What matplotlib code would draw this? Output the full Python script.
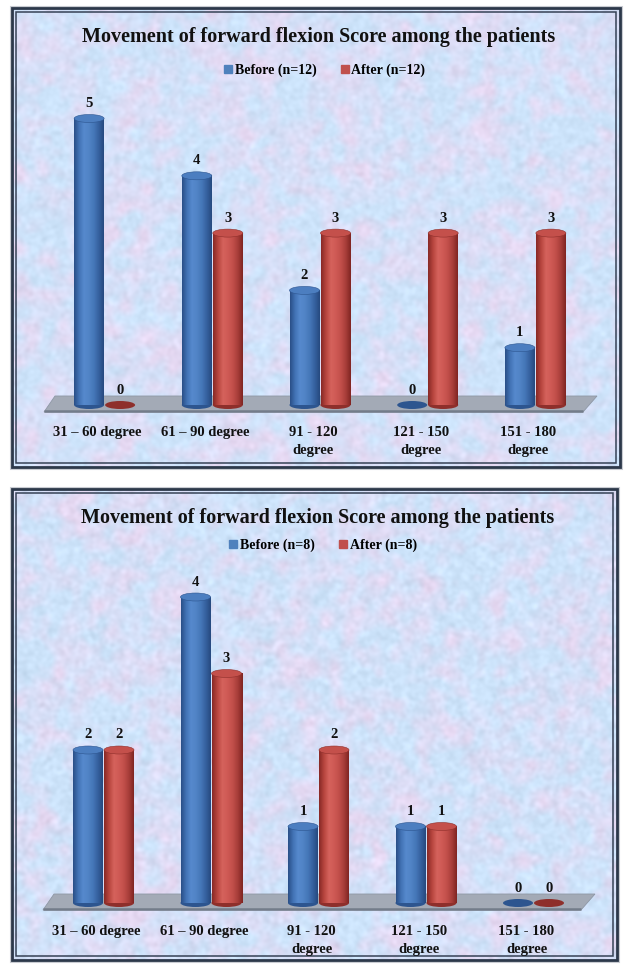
import numpy as np
import matplotlib
matplotlib.use('Agg')
import matplotlib.pyplot as plt
from matplotlib.patches import Ellipse, Polygon, Rectangle
from matplotlib.colors import LinearSegmentedColormap
from matplotlib.lines import Line2D

# ---- data ----
categories = ['31 – 60 degree', '61 – 90 degree', '91 - 120\ndegree',
              '121 - 150\ndegree', '151 - 180\ndegree']
title = 'Movement of forward flexion Score among the patients'

before_1 = [5, 4, 2, 0, 1]
after_1 = [0, 3, 3, 3, 3]
series_1 = ['Before (n=12)', 'After (n=12)']

before_2 = [2, 4, 1, 1, 0]
after_2 = [2, 3, 2, 1, 0]
series_2 = ['Before (n=8)', 'After (n=8)']

SERIF = 'Liberation Serif'
W, H = 629, 965

fig = plt.figure(figsize=(W / 100, H / 100), dpi=100)
fig.patch.set_facecolor('white')
bg = fig.add_axes([0, 0, 1, 1])
bg.set_xlim(0, W)
bg.set_ylim(H, 0)
bg.axis('off')


def blur(a, s):
    h, w = a.shape
    fy = np.fft.fftfreq(h)[:, None]
    fx = np.fft.fftfreq(w)[None, :]
    g = np.exp(-2 * (np.pi * s) ** 2 * (fx ** 2 + fy ** 2))
    return np.real(np.fft.ifft2(np.fft.fft2(a) * g))


def norm(a):
    return (a - a.min()) / (a.max() - a.min())


rng = np.random.default_rng(11)


# pastel blue / pink mottled background
def texture(h, w):
    light = norm(blur(rng.random((h, w)), 1.8))
    mix = norm(blur(rng.random((h, w)), 5)) * 0.7 + norm(blur(rng.random((h, w)), 12)) * 0.3
    blue = np.array([0.80, 0.89, 0.98])
    pink = np.array([0.90, 0.85, 0.95])
    p = np.clip((mix - 0.5) * 2.6 + 0.3, 0, 1)[..., None]
    img = blue * (1 - p) + pink * p
    img = img + ((light - 0.5) * 0.11)[..., None]
    return np.clip(img, 0, 1)


blue_cmap = LinearSegmentedColormap.from_list(
    'bl', ['#2a4f88', '#4273b5', '#5689cd', '#5184c6', '#4577b8', '#36619f', '#274a80'])
red_cmap = LinearSegmentedColormap.from_list(
    'rd', ['#882926', '#b8463f', '#d5625c', '#cf5a55', '#c24f4a', '#a83e3a', '#802522'])
grad = np.linspace(0, 1, 64)[None, :]


def cylinder(ax, xc, w, h, cmap, top, dark, ell):
    ax.add_patch(Ellipse((xc, 0), w, ell, facecolor=dark, edgecolor='none', zorder=3))
    if h > 0:
        ax.imshow(grad, extent=(xc - w / 2, xc + w / 2, 0, h), cmap=cmap,
                  aspect='auto', zorder=3.5, interpolation='bilinear')
        ax.add_patch(Ellipse((xc, h), w, ell, facecolor=top, edgecolor=dark,
                             linewidth=0.4, zorder=4))


def panel(frame, axbox, base_px, ppu, before, after, names, title_y, legend_y):
    x0, y0, x1, y1 = frame
    bg.imshow(texture(int(y1 - y0), int(x1 - x0)), extent=(x0, x1, y1, y0),
              aspect='auto', zorder=0, interpolation='bilinear')
    bg.add_patch(Rectangle((x0 - 1.5, y0 - 1.5), x1 - x0 + 3, y1 - y0 + 3, fill=False,
                           edgecolor='#c9ccd2', linewidth=1.5, zorder=1))
    bg.add_patch(Rectangle((x0, y0), x1 - x0, y1 - y0, fill=False,
                           edgecolor='#2c384a', linewidth=2.0, zorder=2))
    bg.add_patch(Rectangle((x0 + 4, y0 + 4), x1 - x0 - 8, y1 - y0 - 8, fill=False,
                           edgecolor='#364256', linewidth=1.1, zorder=2))
    xc = (x0 + x1) / 2
    bg.text(xc + 3, title_y, title, ha='center', va='center', fontsize=14.5,
            fontweight='bold', family=SERIF, color='#111111', zorder=5)

    left, right, top, bottom = axbox
    ax = fig.add_axes([left / W, 1 - bottom / H, (right - left) / W, (bottom - top) / H])
    ax.patch.set_alpha(0)
    ylim = (-(bottom - base_px) / ppu, (base_px - top) / ppu)
    xl = (-0.6, 4.6)
    ppx = (right - left) / (xl[1] - xl[0])
    for s in ax.spines.values():
        s.set_visible(False)
    ax.set_yticks([])

    # floor of the 3-D chart
    ft, fb = 9 / ppu, -7 / ppu
    floor = [(xl[0] + 15 / ppx, ft), (xl[1] - 3 / ppx, ft),
             (xl[1] - 17 / ppx, fb), (xl[0] + 4 / ppx, fb)]
    ax.add_patch(Polygon(floor, closed=True, facecolor='#a3aab6', edgecolor='#8e97a5',
                         linewidth=0.6, zorder=2))
    ax.plot([floor[3][0], floor[2][0]], [fb + 1 / ppu, fb + 1 / ppu], color='#737c8a',
            linewidth=1.8, zorder=2.1, solid_capstyle='butt')

    w = 30 / ppx
    off = 15.5 / ppx
    ell = 8 / ppu
    x = np.arange(len(categories))
    for i in x:
        cylinder(ax, i - off, w, before[i], blue_cmap, '#4c7ec0', '#2d558f', ell)
        cylinder(ax, i + off, w, after[i], red_cmap, '#c4504b', '#8e2f2b', ell)
        for xx, v in ((i - off, before[i]), (i + off, after[i])):
            ax.text(xx, v + 8.5 / ppu, str(v), ha='center', va='bottom', fontsize=10.5,
                    fontweight='bold', family=SERIF, color='#111111', zorder=6)
    ax.set_xlim(*xl)
    ax.set_ylim(*ylim)
    ax.set_xticks(x - 7 / ppx)
    ax.set_xticklabels(categories, fontsize=10.5, fontweight='bold', family=SERIF,
                       color='#111111', linespacing=1.5)
    ax.tick_params(axis='x', length=0, pad=7.5)

    handles = [Line2D([], [], marker='s', linestyle='none', markersize=5.5,
                      markerfacecolor='#4f81bd', markeredgecolor='#4f81bd'),
               Line2D([], [], marker='s', linestyle='none', markersize=5.5,
                      markerfacecolor='#c0504d', markeredgecolor='#c0504d')]
    fig.legend(handles, names, loc='center', bbox_to_anchor=((xc + 8) / W, 1 - legend_y / H),
               ncol=2, frameon=False, handletextpad=0.1, columnspacing=1.6,
               handlelength=0.8, prop={'family': SERIF, 'weight': 'bold', 'size': 10})


panel((12, 8, 620, 467), (40, 600, 90, 416), 405, 57.3,
      before_1, after_1, series_1, 37, 70)
panel((12, 489, 617, 960), (39, 598, 575, 915), 903, 76.5,
      before_2, after_2, series_2, 518, 545)

fig.savefig('out.png', dpi=100)
